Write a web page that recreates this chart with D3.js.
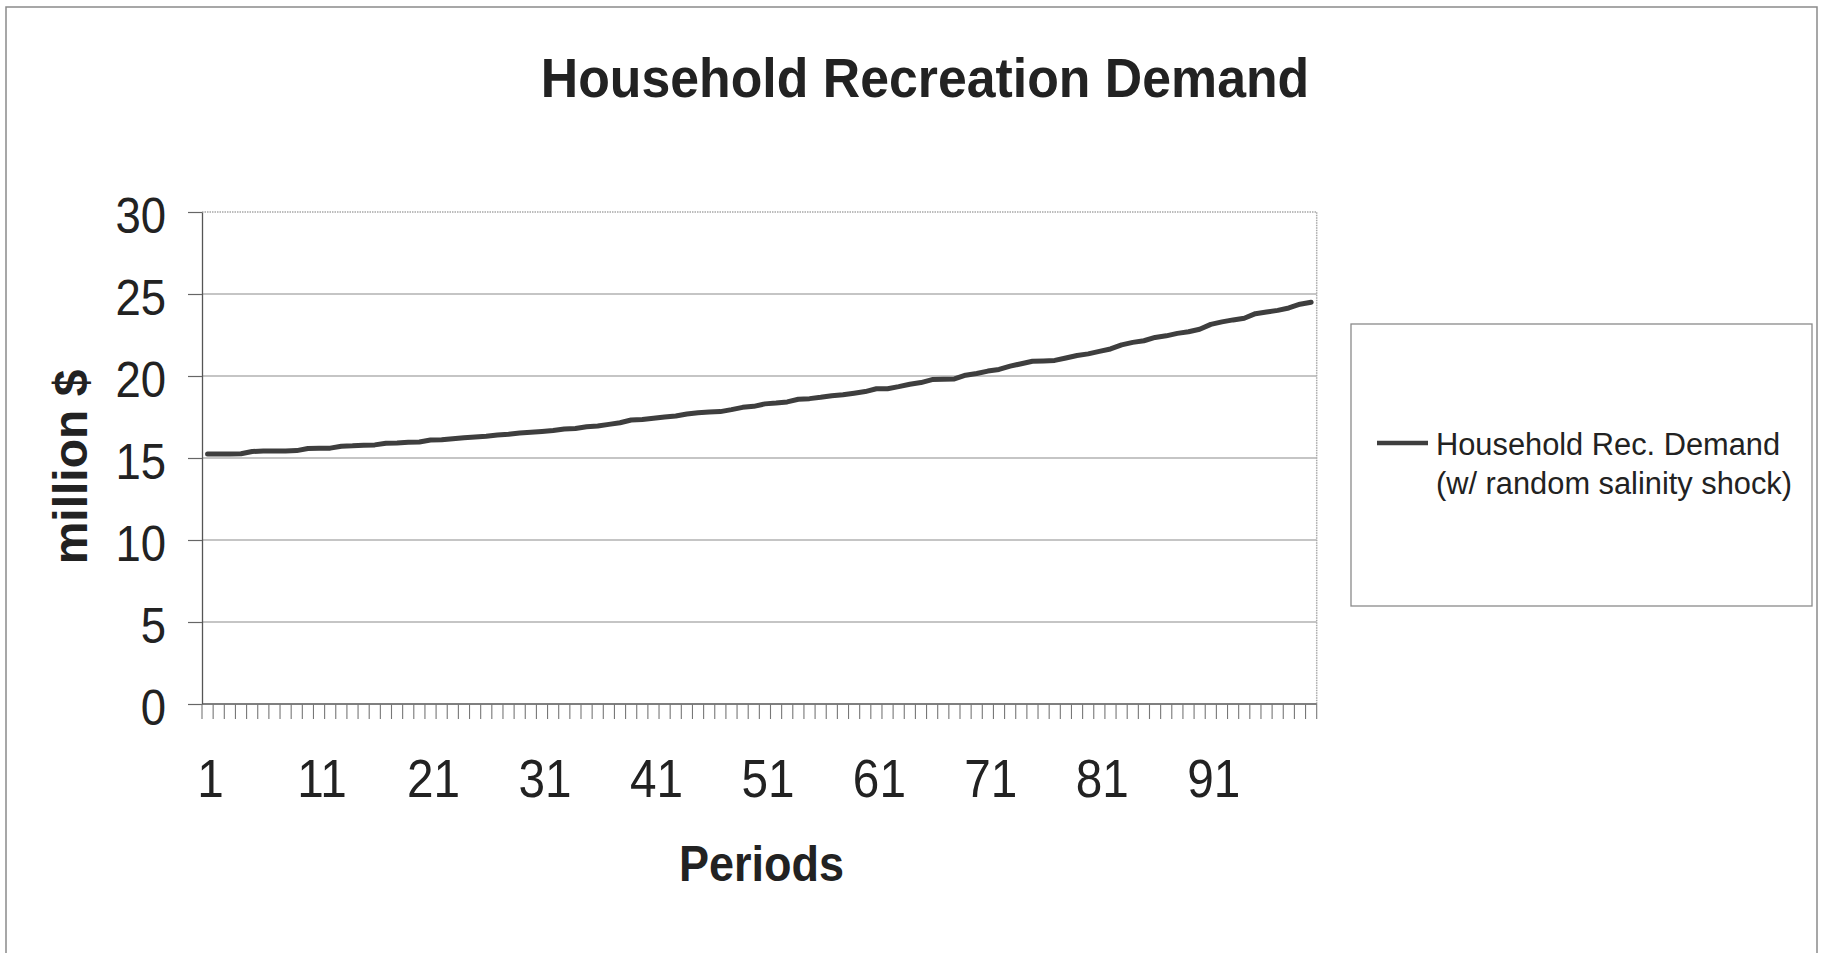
<!DOCTYPE html>
<html>
<head>
<meta charset="utf-8">
<script src="https://cdn.jsdelivr.net/npm/d3@7"></script>
<style>
  html, body { margin: 0; padding: 0; background: #fff; }
  svg { display: block; }
  text { font-family: "Liberation Sans", Arial, sans-serif; fill: #222; }
</style>
</head>
<body>
<svg id="chart" width="1825" height="953"></svg>
<script>
// ---- data ----
const periods = d3.range(1, 101);
const demand = [
  15.24, 15.24, 15.25, 15.26, 15.40, 15.42, 15.43, 15.43, 15.45, 15.58,
  15.59, 15.60, 15.72, 15.74, 15.78, 15.80, 15.90, 15.92, 15.96, 15.98,
  16.10, 16.11, 16.18, 16.24, 16.28, 16.33, 16.40, 16.45, 16.52, 16.57,
  16.62, 16.68, 16.77, 16.80, 16.90, 16.95, 17.05, 17.15, 17.32, 17.35,
  17.42, 17.50, 17.56, 17.68, 17.76, 17.80, 17.83, 17.95, 18.09, 18.15,
  18.30, 18.35, 18.42, 18.58, 18.62, 18.70, 18.80, 18.86, 18.95, 19.05,
  19.22, 19.22, 19.35, 19.50, 19.60, 19.78, 19.80, 19.82, 20.05, 20.15,
  20.30, 20.40, 20.60, 20.75, 20.90, 20.92, 20.95, 21.10, 21.25, 21.35,
  21.50, 21.65, 21.90, 22.05, 22.15, 22.35, 22.45, 22.60, 22.70, 22.85,
  23.15, 23.30, 23.42, 23.52, 23.80, 23.90, 24.00, 24.15, 24.38, 24.50
];
const yTicks = [0, 5, 10, 15, 20, 25, 30];
const xLabels = [1, 11, 21, 31, 41, 51, 61, 71, 81, 91];
const titleText = "Household Recreation Demand";
const xTitle = "Periods";
const yTitle = "million $";
const legendLines = ["Household Rec. Demand", "(w/ random salinity shock)"];

// ---- layout ----
const svg = d3.select("#chart");
const L = 202, R = 1316.7, T = 212, B = 704;

const x = d3.scaleBand().domain(periods).range([L, R]).padding(0);
const y = d3.scaleLinear().domain([0, 30]).range([B, T]);

// outer chart border
svg.append("rect").attr("x", 6).attr("y", 7).attr("width", 1811).attr("height", 1000)
  .attr("fill", "none").attr("stroke", "#8a8a8a").attr("stroke-width", 1.5);

// gridlines
svg.append("g").selectAll("line").data(yTicks.filter(d => d > 0 && d < 30)).join("line")
  .attr("x1", L).attr("x2", R).attr("y1", d => y(d)).attr("y2", d => y(d))
  .attr("stroke", "#8c8c8c").attr("stroke-width", 1.2);

// plot-area border (top & right, dotted light)
svg.append("path")
  .attr("d", `M${L},${y(30)}H${R}V${B}`)
  .attr("fill", "none").attr("stroke", "#a8a8a8").attr("stroke-width", 1.5)
  .attr("stroke-dasharray", "1.5,1");

// y axis
const yAxis = svg.append("g").attr("transform", `translate(${L},0)`)
  .call(d3.axisLeft(y).tickValues(yTicks).tickSize(14).tickSizeOuter(0).tickFormat(""));
yAxis.select(".domain").attr("stroke", "#555").attr("stroke-width", 1.3);
yAxis.selectAll(".tick line").attr("stroke", "#666").attr("stroke-width", 1.2);

// x axis line
svg.append("line").attr("x1", L).attr("x2", R).attr("y1", B).attr("y2", B)
  .attr("stroke", "#555").attr("stroke-width", 1.3);
// x ticks at category boundaries
const bounds = periods.map(p => x(p)).concat([x(100) + x.bandwidth()]);
svg.append("g").selectAll("line").data(bounds).join("line")
  .attr("x1", d => d).attr("x2", d => d).attr("y1", B).attr("y2", B + 15)
  .attr("stroke", "#777").attr("stroke-width", 1.1);

// y labels
svg.append("g").selectAll("g").data(yTicks).join("g")
  .attr("transform", d => `translate(166,${y(d) + 21}) scale(0.91,1)`)
  .append("text").attr("text-anchor", "end").attr("font-size", 50).text(d => d);

// x labels
svg.append("g").selectAll("g").data(xLabels).join("g")
  .attr("transform", d => `translate(${x(d) + x.bandwidth() / 2 + 3},797) scale(0.9,1)`)
  .append("text").attr("text-anchor", "middle").attr("font-size", 53).text(d => d);

// series line
const line = d3.line()
  .x((d, i) => x(periods[i]) + x.bandwidth() / 2)
  .y(d => y(d));
svg.append("path").datum(demand).attr("d", line)
  .attr("fill", "none").attr("stroke", "#3e3e3e").attr("stroke-width", 5)
  .attr("stroke-linejoin", "round").attr("stroke-linecap", "round");

// title
svg.append("g").attr("transform", "translate(925,97) scale(0.925,1)")
  .append("text").attr("text-anchor", "middle").attr("font-size", 56)
  .attr("font-weight", "bold").text(titleText);

// x title
svg.append("g").attr("transform", "translate(761.5,881) scale(0.9,1)")
  .append("text").attr("text-anchor", "middle").attr("font-size", 50)
  .attr("font-weight", "bold").text(xTitle);

// y title
svg.append("text").attr("transform", "translate(87,467) rotate(-90)")
  .attr("text-anchor", "middle").attr("font-size", 48).attr("font-weight", "bold")
  .text(yTitle);

// legend
const lg = svg.append("g");
lg.append("rect").attr("x", 1351).attr("y", 324).attr("width", 461).attr("height", 282)
  .attr("fill", "#fff").attr("stroke", "#8a8a8a").attr("stroke-width", 1.3);
lg.append("line").attr("x1", 1377).attr("x2", 1428).attr("y1", 443).attr("y2", 443)
  .attr("stroke", "#3e3e3e").attr("stroke-width", 4.5);
lg.selectAll("text.leg").data(legendLines).join("text").attr("class", "leg")
  .attr("x", 1436).attr("y", (d, i) => 455 + i * 39)
  .attr("font-size", 30.8).text(d => d);
</script>
</body>
</html>
